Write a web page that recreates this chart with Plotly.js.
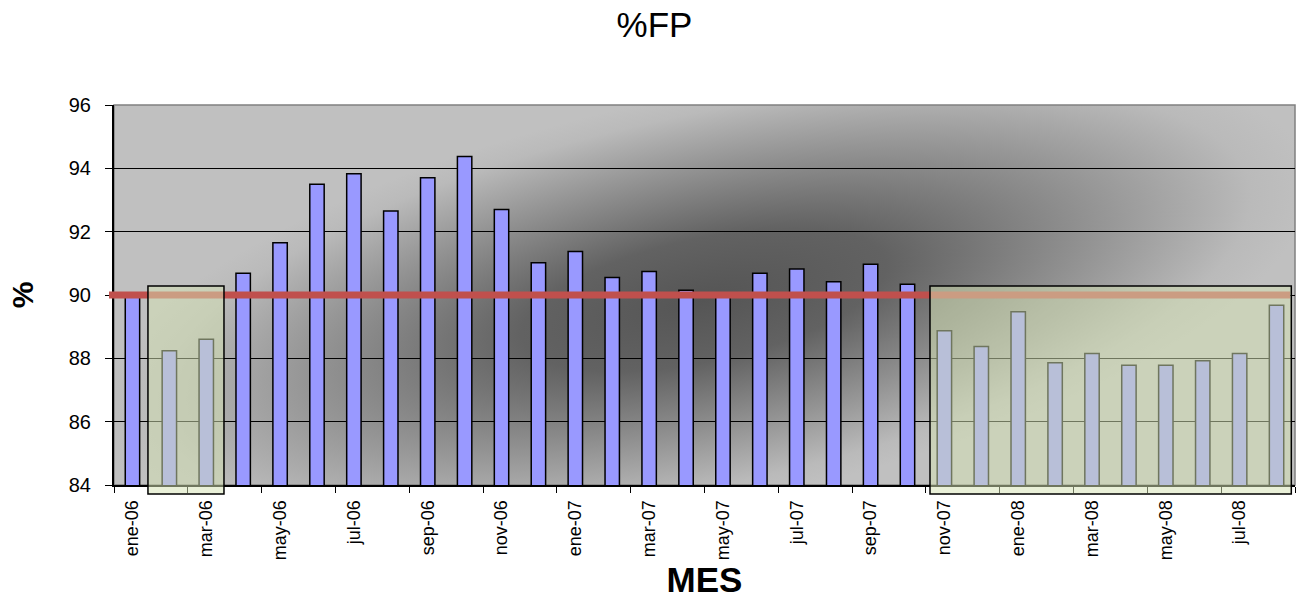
<!DOCTYPE html>
<html>
<head>
<meta charset="utf-8">
<script src="https://cdn.plot.ly/plotly-3.0.1.min.js"></script>
<style>
html,body{margin:0;padding:0;background:#fff;}
#chart{width:1296px;height:599px;}
</style>
</head>
<body>
<div id="chart"></div>
<script>
// ---- data ----
const months = [
  "ene-06","feb-06","mar-06","abr-06","may-06","jun-06","jul-06","ago-06","sep-06","oct-06","nov-06","dic-06",
  "ene-07","feb-07","mar-07","abr-07","may-07","jun-07","jul-07","ago-07","sep-07","oct-07","nov-07","dic-07",
  "ene-08","feb-08","mar-08","abr-08","may-08","jun-08","jul-08","ago-08"
];
const fpValues = [
  90.05, 88.24, 88.60, 90.69, 91.65, 93.50, 93.83, 92.65, 93.70, 94.37, 92.70, 91.02,
  91.37, 90.55, 90.74, 90.15, 89.95, 90.69, 90.82, 90.42, 90.97, 90.34, 88.87, 88.37,
  89.47, 87.86, 88.15, 87.78, 87.78, 87.92, 88.15, 89.68
];
const target = 90;
const highlightStarts = ["feb-06", "nov-07"];
const highlightEnds   = ["mar-06", "ago-08"];

// ---- layout helpers ----
const Y_MIN = 84, Y_MAX = 96;
const N = months.length;
const catToPaper = i => (i + 0.5) / N;
const valToPaper = v => (v - Y_MIN) / (Y_MAX - Y_MIN);

const bgSvg = '<svg xmlns="http://www.w3.org/2000/svg" width="1181" height="380" viewBox="0 0 1181 380" preserveAspectRatio="none">' +
  '<defs><radialGradient id="g" cx="0" cy="0" r="1" gradientUnits="userSpaceOnUse" gradientTransform="translate(590,195) rotate(-12) scale(620,205)">' +
  '<stop offset="0" stop-color="#555555"/>' +
  '<stop offset="0.3" stop-color="#626262"/>' +
  '<stop offset="0.65" stop-color="#959595"/>' +
  '<stop offset="0.9" stop-color="#bababa"/>' +
  '<stop offset="1" stop-color="#c0c0c0"/>' +
  '</radialGradient></defs>' +
  '<rect x="0" y="0" width="1181" height="380" fill="#c0c0c0"/>' +
  '<rect x="0" y="0" width="1181" height="380" fill="url(#g)"/></svg>';
const bgUri = 'data:image/svg+xml;base64,' + btoa(bgSvg);

const padL = [0.58, 0.39], padR = [0.48, 0.40];
const shapes = [];
// plot border (gray top/right)
shapes.push({type:'rect', xref:'paper', yref:'paper', x0:0, x1:1, y0:0, y1:1,
  line:{color:'#808080', width:1.5}, fillcolor:'rgba(0,0,0,0)', layer:'below'});
// target line
shapes.push({type:'line', xref:'paper', yref:'paper', x0:-0.0042, x1:0.9958,
  y0:valToPaper(target), y1:valToPaper(target), line:{color:'#C0504D', width:7}, layer:'above'});
// highlight boxes
for (let k = 0; k < highlightStarts.length; k++) {
  const s = months.indexOf(highlightStarts[k]);
  const e = months.indexOf(highlightEnds[k]);
  shapes.push({type:'rect', xref:'paper', yref:'paper',
    x0:catToPaper(s) - padL[k]/N, x1:catToPaper(e) + padR[k]/N,
    y0:-0.024, y1:valToPaper(target) + 0.024,
    line:{color:'#000000', width:1.5}, fillcolor:'rgba(212,226,180,0.52)', layer:'above'});
}

const traces = [{
  type:'bar', x:months, y:fpValues, width:0.39,
  marker:{color:'#9999FF', line:{color:'#000000', width:1.5}},
  hoverinfo:'x+y'
}];

const layout = {
  width:1296, height:599,
  margin:{l:114, r:1, t:105, b:114},
  paper_bgcolor:'#ffffff', plot_bgcolor:'rgba(0,0,0,0)',
  font:{family:'Liberation Sans, Arial, sans-serif', color:'#000'},
  showlegend:false,
  title:{text:'%FP', font:{size:35, color:'#000'}, xref:'container', yref:'container', x:0.505, y:0.958, xanchor:'center', yanchor:'middle'},
  xaxis:{type:'category', tickangle:-90, dtick:2, tickson:'boundaries', ticks:'outside', ticklen:6, tickcolor:'#000',
    showline:true, linecolor:'#000', linewidth:2, showgrid:false, tickfont:{size:18}, ticklabelstandoff:6,
    title:{text:'MES', font:{size:35, weight:'bold'}, standoff:10}, range:[-0.5, N-0.5], fixedrange:true},
  yaxis:{range:[Y_MIN, Y_MAX], dtick:2, ticks:'outside', ticklen:7, tickcolor:'#000',
    showline:true, linecolor:'#000', linewidth:2, showgrid:true, gridcolor:'#000', gridwidth:1,
    zeroline:false, tickfont:{size:20}, ticklabelstandoff:10,
    title:{text:'%', font:{size:30, weight:'bold'}, standoff:26}, fixedrange:true},
  images:[{source:bgUri, xref:'paper', yref:'paper', x:0, y:1, sizex:1, sizey:1, sizing:'stretch', xanchor:'left', yanchor:'top', layer:'below'}],
  shapes:shapes,
  bargap:0.6
};

Plotly.newPlot('chart', traces, layout, {displayModeBar:false, responsive:false});
</script>
</body>
</html>
